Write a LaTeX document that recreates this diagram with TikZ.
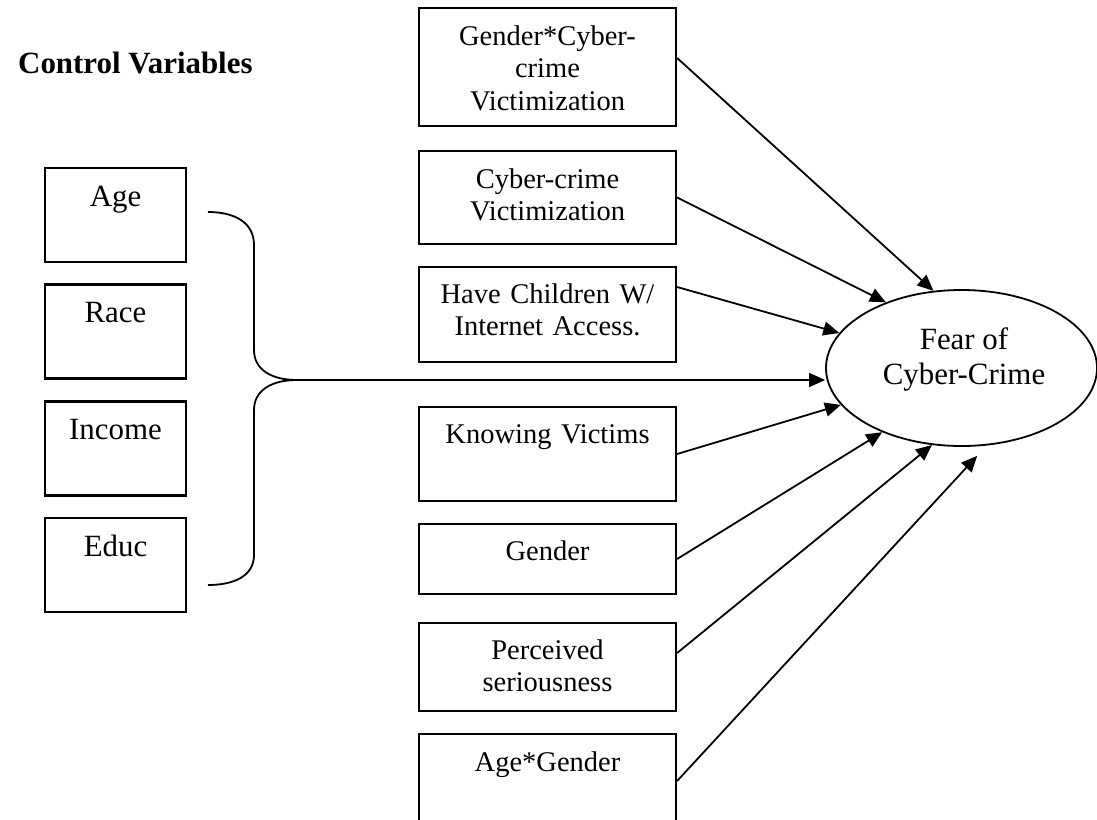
\documentclass[tikz,border=0pt]{standalone}
\usepackage{fontspec}
\setmainfont{Liberation Serif}
\usetikzlibrary{arrows.meta,shapes.geometric}
% text block of a box: lines start near the top edge
\newcommand{\cellbody}[3]{\parbox[c][#1pt][t]{\linewidth}{\centering\rule{0pt}{#2pt}#3}}
\begin{document}
\begin{tikzpicture}[x=1pt,y=-1pt,
  rbox/.style={draw, line width=2.2pt, inner sep=0pt, minimum width=257pt,
    text width=250pt, font=\fontsize{28.5}{32.8}\selectfont},
  lbox/.style={draw, line width=2.2pt, inner sep=0pt, minimum width=141pt,
    text width=136pt, minimum height=94pt, font=\fontsize{30.9}{35}\selectfont},
  link/.style={line width=1.8pt, -{Triangle[length=16pt,width=14pt]}},
  heading/.style={font=\fontsize{30.9}{35}\selectfont\bfseries, inner sep=0pt}]
\useasboundingbox (0,0) rectangle (1097,819);

% heading
\node[heading, anchor=base west] (ctl) at (18,73) {Control Variables};

% control variable boxes
\node[lbox] (age) at (115.5,215)   {\cellbody{94}{38}{Age}};
\node[lbox] (race) at (115.5,331.5) {\cellbody{94}{38}{Race}};
\node[lbox] (inc) at (115.5,448.5) {\cellbody{94}{38}{Income}};
\node[lbox] (edu) at (115.5,565)   {\cellbody{94}{38}{Educ}};

% predictor boxes
\node[rbox, minimum height=118pt] (gc) at (547.5,67)  {\cellbody{118}{37}{Gender*Cyber-\\crime\\Victimization}};
\node[rbox, minimum height=93pt]  (cv) at (547.5,197.5) {\cellbody{93}{37}{Cyber-crime\\Victimization}};
\node[rbox, minimum height=95pt]  (hc) at (547.5,314.5) {\cellbody{95}{36}{Have Children W/\\Internet Access.}};
\node[rbox, minimum height=94pt]  (kv) at (547.5,454)  {\cellbody{94}{36}{Knowing Victims}};
\node[rbox, minimum height=70pt]  (ge) at (547.5,559)  {\cellbody{70}{36}{Gender}};
\node[rbox, minimum height=88pt]  (ps) at (547.5,667)  {\cellbody{88}{36}{Perceived\\seriousness}};
\node[rbox, minimum height=94pt]  (ag) at (547.5,781)  {\cellbody{94}{37}{Age*Gender}};

% outcome
\node[draw, ellipse, line width=1.8pt, minimum width=271pt, minimum height=156pt, inner sep=0pt]
  (fear) at (961.5,368) {};
\node[font=\fontsize{30.9}{35}\selectfont, align=center, inner sep=0pt]
  (feartext) at (964,359) {Fear of\\Cyber-Crime};

% brace gathering the control variables
\coordinate (bt) at (208,212);
\coordinate (bm) at (297,380);
\coordinate (bb) at (208,585);
\draw[line width=1.8pt] (bt) .. controls (234,212) and (254,222) .. (254,245)
  -- (254,350) .. controls (254,370) and (272,380) .. (bm)
  .. controls (272,380) and (254,390) .. (254,410)
  -- (254,555) .. controls (254,576) and (234,585) .. (bb);
\draw[link] (bm) -- (bm -| fear.west);

% paths into the outcome
\draw[link] ([yshift=9pt]gc.east) -- (fear.110);
\draw[link] (cv.east) -- (fear.139);
\draw[link] ([yshift=27.5pt]hc.east) -- (fear.164);
\draw[link] (kv.east) -- (fear.197.5);
\draw[link] (ge.east) -- (fear.219.5);
\draw[link] ([yshift=14pt]ps.east) -- (fear.249.5);
\draw[link, shorten >=14pt] (ag.east) -- (fear.288.5);
\end{tikzpicture}
\end{document}
